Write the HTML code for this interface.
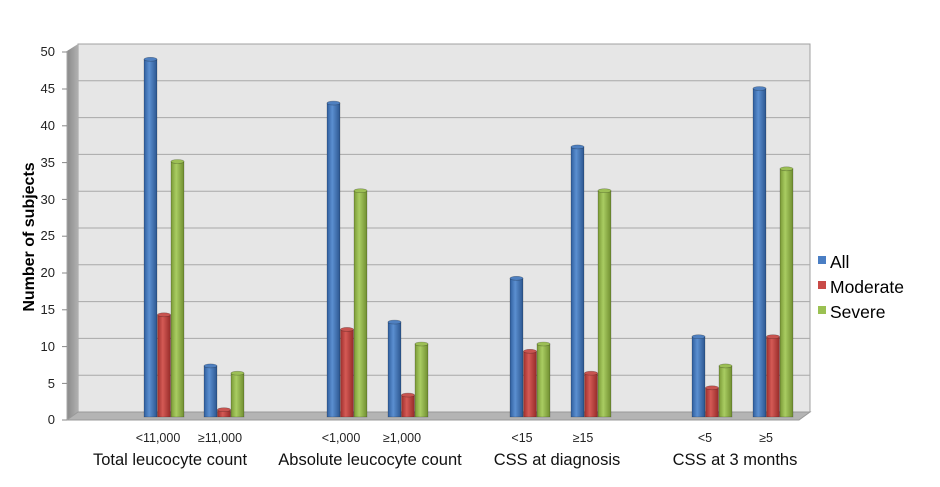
<!DOCTYPE html><html><head><style>body{margin:0;background:#fff}svg{display:block}text{font-family:"Liberation Sans",sans-serif}</style></head><body>
<svg width="940" height="487" viewBox="0 0 940 487">
<defs>
<linearGradient id="gb" x1="0" x2="1"><stop offset="0" stop-color="#2f5e9e"/><stop offset=".4" stop-color="#5b8fd0"/><stop offset="1" stop-color="#2c5690"/></linearGradient>
<linearGradient id="gr" x1="0" x2="1"><stop offset="0" stop-color="#9e2f2c"/><stop offset=".4" stop-color="#d45a55"/><stop offset="1" stop-color="#962b29"/></linearGradient>
<linearGradient id="gg" x1="0" x2="1"><stop offset="0" stop-color="#7a9a36"/><stop offset=".4" stop-color="#a9cc62"/><stop offset="1" stop-color="#708e30"/></linearGradient>
<linearGradient id="sw" x1="0" x2="1"><stop offset="0" stop-color="#8a8a8a"/><stop offset="1" stop-color="#b0b0b0"/></linearGradient>
</defs>
<polygon points="78,44 810,44 810,412 78,412" fill="#e6e6e6" stroke="#a0a0a0"/>
<polygon points="67,51 78,44 78,412 67,420" fill="url(#sw)"/>
<polygon points="67,420 78,412 810,412 799,420" fill="#b4b4b4" stroke="#999"/>
<g stroke="#a8a8a8" stroke-width="1">
<line x1="78" y1="80.8" x2="810" y2="80.8"/><line x1="78" y1="117.6" x2="810" y2="117.6"/><line x1="78" y1="154.4" x2="810" y2="154.4"/><line x1="78" y1="191.2" x2="810" y2="191.2"/><line x1="78" y1="228" x2="810" y2="228"/><line x1="78" y1="264.8" x2="810" y2="264.8"/><line x1="78" y1="301.6" x2="810" y2="301.6"/><line x1="78" y1="338.4" x2="810" y2="338.4"/><line x1="78" y1="375.2" x2="810" y2="375.2"/>
<line x1="67" y1="51" x2="67" y2="420"/>
</g>
<g stroke="#888"><line x1="62" y1="52" x2="67" y2="52"/><line x1="62" y1="89" x2="67" y2="89"/><line x1="62" y1="125.8" x2="67" y2="125.8"/><line x1="62" y1="162.6" x2="67" y2="162.6"/><line x1="62" y1="199.4" x2="67" y2="199.4"/><line x1="62" y1="236.2" x2="67" y2="236.2"/><line x1="62" y1="273" x2="67" y2="273"/><line x1="62" y1="309.8" x2="67" y2="309.8"/><line x1="62" y1="346.6" x2="67" y2="346.6"/><line x1="62" y1="383.4" x2="67" y2="383.4"/><line x1="62" y1="420" x2="67" y2="420"/></g>
<g font-size="13" text-anchor="end" fill="#222">
<text x="55" y="56">50</text><text x="55" y="93">45</text><text x="55" y="130">40</text><text x="55" y="167">35</text><text x="55" y="204">30</text><text x="55" y="240">25</text><text x="55" y="277">20</text><text x="55" y="314">15</text><text x="55" y="351">10</text><text x="55" y="388">5</text><text x="55" y="424">0</text>
</g>
<text transform="translate(34,237) rotate(-90)" font-size="16" font-weight="bold" text-anchor="middle">Number of subjects</text>
<g stroke="rgba(0,0,0,.3)" stroke-width=".6">
<rect x="144" y="59.3" width="13" height="357.7" fill="url(#gb)"/><ellipse cx="150.5" cy="59.3" rx="6.5" ry="2" fill="#4f80c0"/>
<rect x="157.5" y="314.8" width="13" height="102.2" fill="url(#gr)"/><ellipse cx="164" cy="314.8" rx="6.5" ry="2" fill="#c85450"/>
<rect x="171" y="161.5" width="13" height="255.5" fill="url(#gg)"/><ellipse cx="177.5" cy="161.5" rx="6.5" ry="2" fill="#9cbf55"/>
<rect x="204" y="365.9" width="13" height="51.1" fill="url(#gb)"/><ellipse cx="210.5" cy="365.9" rx="6.5" ry="2" fill="#4f80c0"/>
<rect x="217.5" y="409.7" width="13" height="7.3" fill="url(#gr)"/><ellipse cx="224" cy="409.7" rx="6.5" ry="2" fill="#c85450"/>
<rect x="231" y="373.2" width="13" height="43.8" fill="url(#gg)"/><ellipse cx="237.5" cy="373.2" rx="6.5" ry="2" fill="#9cbf55"/>
<rect x="327" y="103.1" width="13" height="313.9" fill="url(#gb)"/><ellipse cx="333.5" cy="103.1" rx="6.5" ry="2" fill="#4f80c0"/>
<rect x="340.5" y="329.4" width="13" height="87.6" fill="url(#gr)"/><ellipse cx="347" cy="329.4" rx="6.5" ry="2" fill="#c85450"/>
<rect x="354" y="190.7" width="13" height="226.3" fill="url(#gg)"/><ellipse cx="360.5" cy="190.7" rx="6.5" ry="2" fill="#9cbf55"/>
<rect x="388" y="322.1" width="13" height="94.9" fill="url(#gb)"/><ellipse cx="394.5" cy="322.1" rx="6.5" ry="2" fill="#4f80c0"/>
<rect x="401.5" y="395.1" width="13" height="21.9" fill="url(#gr)"/><ellipse cx="408" cy="395.1" rx="6.5" ry="2" fill="#c85450"/>
<rect x="415" y="344" width="13" height="73" fill="url(#gg)"/><ellipse cx="421.5" cy="344" rx="6.5" ry="2" fill="#9cbf55"/>
<rect x="510" y="278.3" width="13" height="138.7" fill="url(#gb)"/><ellipse cx="516.5" cy="278.3" rx="6.5" ry="2" fill="#4f80c0"/>
<rect x="523.5" y="351.3" width="13" height="65.7" fill="url(#gr)"/><ellipse cx="530" cy="351.3" rx="6.5" ry="2" fill="#c85450"/>
<rect x="537" y="344" width="13" height="73" fill="url(#gg)"/><ellipse cx="543.5" cy="344" rx="6.5" ry="2" fill="#9cbf55"/>
<rect x="571" y="146.9" width="13" height="270.1" fill="url(#gb)"/><ellipse cx="577.5" cy="146.9" rx="6.5" ry="2" fill="#4f80c0"/>
<rect x="584.5" y="373.2" width="13" height="43.8" fill="url(#gr)"/><ellipse cx="591" cy="373.2" rx="6.5" ry="2" fill="#c85450"/>
<rect x="598" y="190.7" width="13" height="226.3" fill="url(#gg)"/><ellipse cx="604.5" cy="190.7" rx="6.5" ry="2" fill="#9cbf55"/>
<rect x="692" y="336.7" width="13" height="80.3" fill="url(#gb)"/><ellipse cx="698.5" cy="336.7" rx="6.5" ry="2" fill="#4f80c0"/>
<rect x="705.5" y="387.8" width="13" height="29.2" fill="url(#gr)"/><ellipse cx="712" cy="387.8" rx="6.5" ry="2" fill="#c85450"/>
<rect x="719" y="365.9" width="13" height="51.1" fill="url(#gg)"/><ellipse cx="725.5" cy="365.9" rx="6.5" ry="2" fill="#9cbf55"/>
<rect x="753" y="88.5" width="13" height="328.5" fill="url(#gb)"/><ellipse cx="759.5" cy="88.5" rx="6.5" ry="2" fill="#4f80c0"/>
<rect x="766.5" y="336.7" width="13" height="80.3" fill="url(#gr)"/><ellipse cx="773" cy="336.7" rx="6.5" ry="2" fill="#c85450"/>
<rect x="780" y="168.8" width="13" height="248.2" fill="url(#gg)"/><ellipse cx="786.5" cy="168.8" rx="6.5" ry="2" fill="#9cbf55"/>
</g>
<g font-size="12.5" text-anchor="middle" fill="#222">
<text x="158" y="442">&lt;11,000</text><text x="220" y="442">≥11,000</text>
<text x="341" y="442">&lt;1,000</text><text x="402" y="442">≥1,000</text>
<text x="522" y="442">&lt;15</text><text x="583" y="442">≥15</text>
<text x="705" y="442">&lt;5</text><text x="766" y="442">≥5</text>
</g>
<g font-size="16.5" text-anchor="middle" fill="#111">
<text x="170" y="465">Total leucocyte count</text><text x="370" y="465">Absolute leucocyte count</text><text x="557" y="465">CSS at diagnosis</text><text x="735" y="465">CSS at 3 months</text>
</g>
<rect x="818" y="256" width="8" height="8" fill="#4a7ec4"/><text x="830" y="268" font-size="17.5">All</text>
<rect x="818" y="281" width="8" height="8" fill="#c94a47"/><text x="830" y="293" font-size="17.5">Moderate</text>
<rect x="818" y="306" width="8" height="8" fill="#9bc152"/><text x="830" y="318" font-size="17.5">Severe</text>
</svg>
</body></html>
